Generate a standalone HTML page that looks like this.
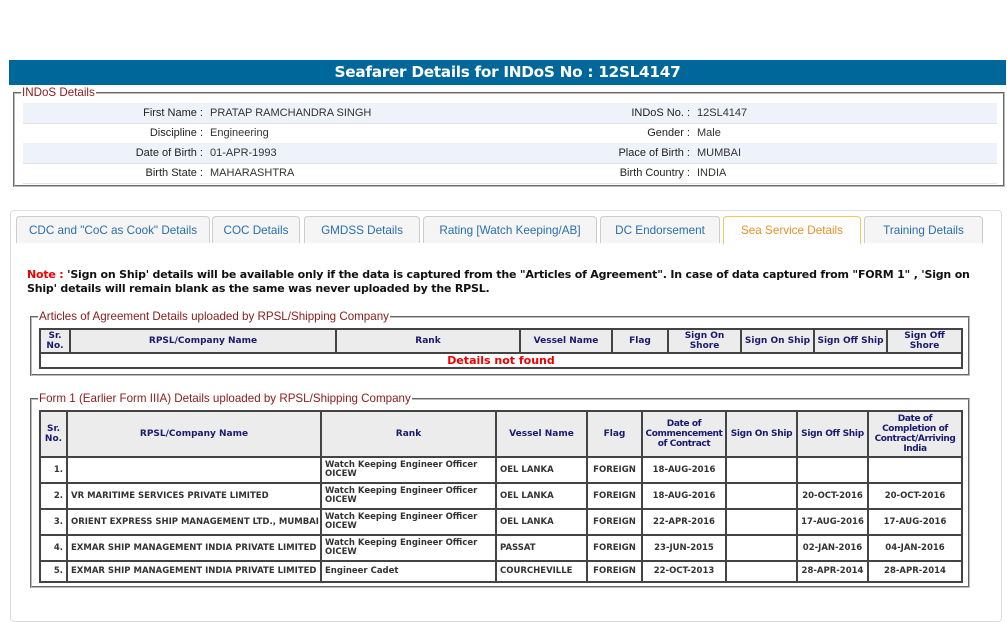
<!DOCTYPE html>
<html><head><meta charset="utf-8"><style>
body{margin:0;width:1007px;height:616px;background:#fff;position:relative;overflow:hidden;font-family:"Liberation Sans",Arial,sans-serif;}
.abs{position:absolute}
.hdr{left:9px;top:60px;width:997px;height:25px;background:#00679a;color:#fff;font:bold 15.3px "DejaVu Sans",Verdana,sans-serif;text-align:center;line-height:25px;letter-spacing:-0.3px}
fieldset{position:absolute;margin:0;padding:0;border:2px groove #bbb;}
legend{font-size:11.6px;color:#8b1a1a;padding:0 1px;margin-left:6px;}
.row{position:absolute;left:23px;width:974px;height:20px;font-size:11px;color:#333;line-height:20px;border-bottom:1px solid #e3e3e3;}
.row.s{background:#eef3fb}
.l{position:absolute;text-align:right;color:#222}
.v{position:absolute}
.tabs{left:10px;top:210px;width:990px;height:410px;border:1px solid #ddd;border-radius:4px;}
.tab{position:absolute;top:216px;height:26px;border:1px solid #ccc;border-bottom:none;border-radius:4px 4px 0 0;background:#f5f5f5;color:#2a6db0;font-size:11.7px;line-height:27px;text-align:center;}
.note{left:27px;top:268px;width:960px;font:bold 11px "DejaVu Sans",Verdana,sans-serif;line-height:14px;color:#111;letter-spacing:-0.2px}
table{position:absolute;border-collapse:collapse;font:bold 9px "DejaVu Sans",Verdana,sans-serif;table-layout:fixed;}
td,th{border:2px solid #444;padding:0 3px;overflow:hidden;}
th{background:#ececec;color:#1a1a6e;font-size:9px;line-height:10px;padding:0 1px}
td{color:#333;font-size:8.5px;line-height:9px;white-space:nowrap}
td.w{white-space:normal}
</style></head><body>
<div class="abs hdr">Seafarer Details for INDoS No : 12SL4147</div>

<fieldset style="left:13px;top:86px;width:988px;height:97px;"><legend>INDoS Details</legend></fieldset>
<div class="row s" style="top:103px"><span class="l" style="right:794px">First Name :</span><span class="v" style="left:187px">PRATAP RAMCHANDRA SINGH</span><span class="l" style="right:307px">INDoS No. :</span><span class="v" style="left:674px">12SL4147</span></div>
<div class="row" style="top:123px"><span class="l" style="right:794px">Discipline :</span><span class="v" style="left:187px">Engineering</span><span class="l" style="right:307px">Gender :</span><span class="v" style="left:674px">Male</span></div>
<div class="row s" style="top:143px"><span class="l" style="right:794px">Date of Birth :</span><span class="v" style="left:187px">01-APR-1993</span><span class="l" style="right:307px">Place of Birth :</span><span class="v" style="left:674px">MUMBAI</span></div>
<div class="row" style="top:163px"><span class="l" style="right:794px">Birth State :</span><span class="v" style="left:187px">MAHARASHTRA</span><span class="l" style="right:307px">Birth Country :</span><span class="v" style="left:674px">INDIA</span></div>

<div class="abs tabs"></div>
<div class="tab" style="left:16px;width:192px">CDC and "CoC as Cook" Details</div>
<div class="tab" style="left:212px;width:86px">COC Details</div>
<div class="tab" style="left:304px;width:114px">GMDSS Details</div>
<div class="tab" style="left:423px;width:172px">Rating [Watch Keeping/AB]</div>
<div class="tab" style="left:600px;width:118px">DC Endorsement</div>
<div class="tab" style="left:723px;width:136px;background:#fff;border-color:#f0c860;color:#e8902a;height:27px">Sea Service Details</div>
<div class="tab" style="left:864px;width:117px">Training Details</div>

<div class="abs note"><span style="color:#e00">Note :</span> 'Sign on Ship' details will be available only if the data is captured from the "Articles of Agreement". In case of data captured from "FORM 1" , 'Sign on<br>Ship' details will remain blank as the same was never uploaded by the RPSL.</div>

<fieldset style="left:30px;top:310px;width:936px;height:62px;"><legend>Articles of Agreement Details uploaded by RPSL/Shipping Company</legend></fieldset>
<table style="left:39px;top:328px;width:922px">
<colgroup><col style="width:30px"><col style="width:266px"><col style="width:184px"><col style="width:92px"><col style="width:56px"><col style="width:73px"><col style="width:73px"><col style="width:73px"><col style="width:75px"></colgroup>
<tr style="height:24px"><th>Sr. No.</th><th>RPSL/Company Name</th><th>Rank</th><th>Vessel Name</th><th>Flag</th><th>Sign On Shore</th><th style="white-space:nowrap">Sign On Ship</th><th style="white-space:nowrap">Sign Off Ship</th><th>Sign Off Shore</th></tr>
<tr style="height:15px"><td colspan="9" style="text-align:center;color:#e00;font-size:11px;line-height:12px">Details not found</td></tr>
</table>

<fieldset style="left:30px;top:392px;width:936px;height:192px;"><legend>Form 1 (Earlier Form IIIA) Details uploaded by RPSL/Shipping Company</legend></fieldset>
<table style="left:39px;top:410px;width:922px">
<colgroup><col style="width:27px"><col style="width:254px"><col style="width:175px"><col style="width:91px"><col style="width:55px"><col style="width:84px"><col style="width:71px"><col style="width:71px"><col style="width:94px"></colgroup>
<tr style="height:46px"><th>Sr. No.</th><th>RPSL/Company Name</th><th>Rank</th><th>Vessel Name</th><th>Flag</th><th style="padding:0;letter-spacing:-0.4px">Date of Commencement of Contract</th><th style="padding:0;white-space:nowrap;letter-spacing:-0.3px">Sign On Ship</th><th style="padding:0;white-space:nowrap;letter-spacing:-0.3px">Sign Off Ship</th><th style="padding:0 4px;letter-spacing:-0.4px">Date of Completion of Contract/Arriving India</th></tr>
<tr style="height:26px"><td style="text-align:right">1.</td><td></td><td class="w">Watch Keeping Engineer Officer OICEW</td><td>OEL LANKA</td><td style="text-align:center">FOREIGN</td><td style="text-align:center">18-AUG-2016</td><td></td><td></td><td></td></tr>
<tr style="height:26px"><td style="text-align:right">2.</td><td>VR MARITIME SERVICES PRIVATE LIMITED</td><td class="w">Watch Keeping Engineer Officer OICEW</td><td>OEL LANKA</td><td style="text-align:center">FOREIGN</td><td style="text-align:center">18-AUG-2016</td><td></td><td style="text-align:center">20-OCT-2016</td><td style="text-align:center">20-OCT-2016</td></tr>
<tr style="height:26px"><td style="text-align:right">3.</td><td>ORIENT EXPRESS SHIP MANAGEMENT LTD., MUMBAI</td><td class="w">Watch Keeping Engineer Officer OICEW</td><td>OEL LANKA</td><td style="text-align:center">FOREIGN</td><td style="text-align:center">22-APR-2016</td><td></td><td style="text-align:center">17-AUG-2016</td><td style="text-align:center">17-AUG-2016</td></tr>
<tr style="height:26px"><td style="text-align:right">4.</td><td>EXMAR SHIP MANAGEMENT INDIA PRIVATE LIMITED</td><td class="w">Watch Keeping Engineer Officer OICEW</td><td>PASSAT</td><td style="text-align:center">FOREIGN</td><td style="text-align:center">23-JUN-2015</td><td></td><td style="text-align:center">02-JAN-2016</td><td style="text-align:center">04-JAN-2016</td></tr>
<tr style="height:21px"><td style="text-align:right">5.</td><td>EXMAR SHIP MANAGEMENT INDIA PRIVATE LIMITED</td><td>Engineer Cadet</td><td>COURCHEVILLE</td><td style="text-align:center">FOREIGN</td><td style="text-align:center">22-OCT-2013</td><td></td><td style="text-align:center">28-APR-2014</td><td style="text-align:center">28-APR-2014</td></tr>
</table>
</body></html>
